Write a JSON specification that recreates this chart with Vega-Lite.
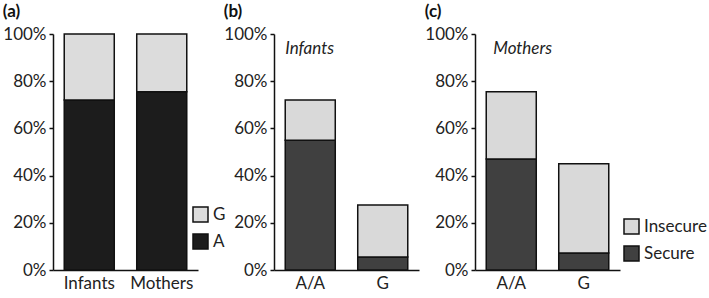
{
  "$schema": "https://vega.github.io/schema/vega-lite/v6.json",
  "padding": {"left": 2, "top": 3, "right": 0, "bottom": 0},
  "bounds": "flush",
  "spacing": 56,
  "config": {
    "view": {"stroke": null},
    "font": "Lato",
    "axis": {"domainColor": "#111111", "domainWidth": 1.5, "tickColor": "#111111", "tickWidth": 1.5, "labelFont": "Lato", "labelFontSize": 17, "labelColor": "#222222", "grid": false, "title": null},
    "legend": {"symbolType": "square", "symbolSize": 225, "symbolStrokeColor": "#111111", "symbolStrokeWidth": 1.5, "symbolOpacity": 1, "labelFont": "Lato", "labelFontSize": 17, "labelColor": "#222222", "labelOffset": 4, "rowPadding": 6},
    "title": {"anchor": "start", "frame": "bounds", "fontSize": 17, "fontWeight": "bold", "font": "Lato", "color": "#111111", "offset": 4}
  },
  "resolve": {"scale": {"color": "independent", "x": "independent", "y": "independent"}, "legend": {"color": "independent"}},
  "hconcat": [
    {
      "title": "(a)",
      "width": 165,
      "height": 236,
      "data": {"values": [
        {"group": "Infants", "allele": "A", "share": 0.72},
        {"group": "Infants", "allele": "G", "share": 0.28},
        {"group": "Mothers", "allele": "A", "share": 0.755},
        {"group": "Mothers", "allele": "G", "share": 0.245}
      ]},
      "mark": {"type": "bar", "stroke": "#111111", "strokeWidth": 1.5},
      "encoding": {
        "x": {"field": "group", "type": "nominal", "scale": {"range": [0, 145], "paddingInner": 0.31, "paddingOuter": 0.155}, "axis": {"labelAngle": 0, "ticks": false, "labelPadding": 5}},
        "y": {"field": "share", "type": "quantitative", "stack": "zero", "scale": {"domain": [0, 1]}, "axis": {"format": ".0%", "values": [0, 0.2, 0.4, 0.6, 0.8, 1], "tickSize": 4, "labelPadding": 3}},
        "color": {"field": "allele", "type": "nominal", "scale": {"domain": ["G", "A"], "range": ["#dcdcdc", "#1c1c1c"]}, "legend": {"title": null, "orient": "none", "legendX": 139, "legendY": 172}},
        "order": {"field": "allele", "sort": "ascending"}
      }
    },
    {
      "title": "(b)",
      "width": 145,
      "height": 236,
      "layer": [
        {
          "data": {"values": [
            {"genotype": "A/A", "status": "Secure", "share": 0.55},
            {"genotype": "A/A", "status": "Insecure", "share": 0.17},
            {"genotype": "G", "status": "Secure", "share": 0.055},
            {"genotype": "G", "status": "Insecure", "share": 0.22}
          ]},
          "mark": {"type": "bar", "stroke": "#111111", "strokeWidth": 1.5},
          "encoding": {
            "x": {"field": "genotype", "type": "nominal", "scale": {"domain": ["A/A", "G"], "paddingInner": 0.31, "paddingOuter": 0.155}, "axis": {"labelAngle": 0, "ticks": false, "labelPadding": 5}},
            "y": {"field": "share", "type": "quantitative", "stack": "zero", "scale": {"domain": [0, 1]}, "axis": {"format": ".0%", "values": [0, 0.2, 0.4, 0.6, 0.8, 1], "tickSize": 4, "labelPadding": 3}},
            "color": {"field": "status", "type": "nominal", "scale": {"domain": ["Insecure", "Secure"], "range": ["#d9d9d9", "#404040"]}, "legend": null},
            "order": {"field": "status", "sort": "descending"}
          }
        },
        {
          "data": {"values": [{"note": "Infants"}]},
          "mark": {"type": "text", "fontStyle": "italic", "fontSize": 17, "align": "left", "baseline": "middle", "color": "#222222"},
          "encoding": {
            "x": {"datum": "A/A", "bandPosition": 0},
            "y": {"datum": 0.935},
            "text": {"field": "note"}
          }
        }
      ]
    },
    {
      "title": "(c)",
      "width": 145,
      "height": 236,
      "layer": [
        {
          "data": {"values": [
            {"genotype": "A/A", "status": "Secure", "share": 0.47},
            {"genotype": "A/A", "status": "Insecure", "share": 0.285},
            {"genotype": "G", "status": "Secure", "share": 0.072},
            {"genotype": "G", "status": "Insecure", "share": 0.378}
          ]},
          "mark": {"type": "bar", "stroke": "#111111", "strokeWidth": 1.5},
          "encoding": {
            "x": {"field": "genotype", "type": "nominal", "scale": {"domain": ["A/A", "G"], "paddingInner": 0.31, "paddingOuter": 0.155}, "axis": {"labelAngle": 0, "ticks": false, "labelPadding": 5}},
            "y": {"field": "share", "type": "quantitative", "stack": "zero", "scale": {"domain": [0, 1]}, "axis": {"format": ".0%", "values": [0, 0.2, 0.4, 0.6, 0.8, 1], "tickSize": 4, "labelPadding": 3}},
            "color": {"field": "status", "type": "nominal", "scale": {"domain": ["Insecure", "Secure"], "range": ["#d9d9d9", "#404040"]}, "legend": {"title": null, "orient": "none", "legendX": 148, "legendY": 184}},
            "order": {"field": "status", "sort": "descending"}
          }
        },
        {
          "data": {"values": [{"note": "Mothers"}]},
          "mark": {"type": "text", "fontStyle": "italic", "fontSize": 17, "align": "left", "baseline": "middle", "color": "#222222", "dx": 7},
          "encoding": {
            "x": {"datum": "A/A", "bandPosition": 0},
            "y": {"datum": 0.935},
            "text": {"field": "note"}
          }
        }
      ]
    }
  ]
}
